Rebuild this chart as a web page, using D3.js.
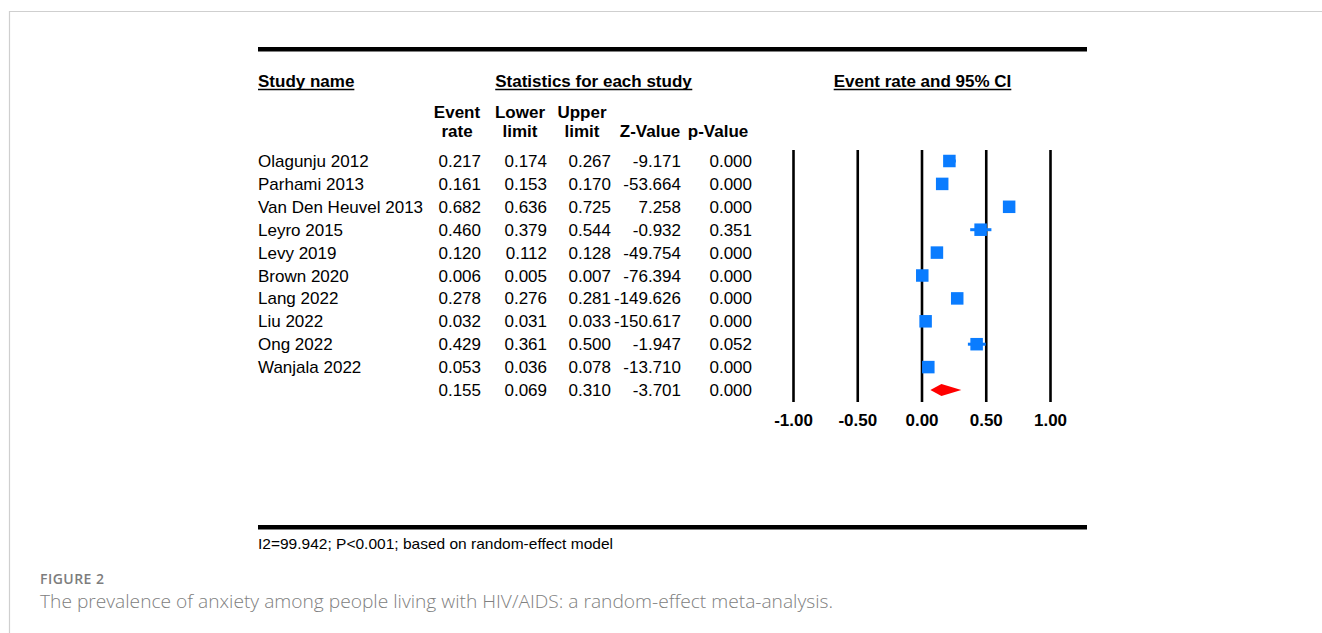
<!DOCTYPE html>
<html>
<head>
<meta charset="utf-8">
<script src="https://cdn.jsdelivr.net/npm/d3@7"></script>
<style>
  body { margin: 0; background: #fff; }
  svg { display: block; }
</style>
</head>
<body>
<div id="chart"></div>
<script>
// data
const studies = ['Olagunju 2012', 'Parhami 2013', 'Van Den Heuvel 2013', 'Leyro 2015', 'Levy 2019',
  'Brown 2020', 'Lang 2022', 'Liu 2022', 'Ong 2022', 'Wanjala 2022']
const eventRate = [0.217, 0.161, 0.682, 0.460, 0.120, 0.006, 0.278, 0.032, 0.429, 0.053]
const lowerLimit = [0.174, 0.153, 0.636, 0.379, 0.112, 0.005, 0.276, 0.031, 0.361, 0.036]
const upperLimit = [0.267, 0.170, 0.725, 0.544, 0.128, 0.007, 0.281, 0.033, 0.500, 0.078]
const zValue = [-9.171, -53.664, 7.258, -0.932, -49.754, -76.394, -149.626, -150.617, -1.947, -13.710]
const pValue = [0.000, 0.000, 0.000, 0.351, 0.000, 0.000, 0.000, 0.000, 0.052, 0.000]
const pooled = { rate: 0.155, lower: 0.069, upper: 0.310, z: -3.701, p: 0.000 }
const tickValues = [-1, -0.5, 0, 0.5, 1]
const colHeaders = [['Event', 'rate'], ['Lower', 'limit'], ['Upper', 'limit'], ['', 'Z-Value'], ['', 'p-Value']]

// consts
const width = 1322, height = 633
const font = "'Liberation Sans', Arial, sans-serif"
const blue = '#0a7cff'
const left = 258, right = 1087
const colRight = [481, 547, 611, 681, 752]
const colCenter = [457, 520, 582, 650, 718]

const svg = d3.select('#chart').append('svg')
  .attr('width', width)
  .attr('height', height)

// card border
svg.append('path')
  .attr('d', `M9.5,${height} V11.5 H${width}`)
  .attr('fill', 'none')
  .attr('stroke', '#cfcfcf')
  .attr('stroke-width', 1.2)

// rules
svg.append('rect').attr('x', left).attr('y', 47).attr('width', right - left).attr('height', 4.5).attr('fill', '#000')
svg.append('rect').attr('x', left).attr('y', 525).attr('width', right - left).attr('height', 4.5).attr('fill', '#000')

// helpers
const hyphen = f => v => f(v).replace('\u2212', '-')
const fmt = hyphen(d3.format('.3f'))
const txt = (x, y, s, opts = {}) => svg.append('text')
  .attr('x', x).attr('y', y)
  .attr('font-family', font)
  .attr('font-size', opts.size || 17)
  .attr('font-weight', opts.bold ? 'bold' : 'normal')
  .attr('text-anchor', opts.anchor || 'start')
  .attr('fill', opts.fill || '#000')
  .text(s)

const underline = (node, y) => {
  const b = node.node().getBBox()
  svg.append('line')
    .attr('x1', b.x).attr('x2', b.x + b.width)
    .attr('y1', y).attr('y2', y)
    .attr('stroke', '#000').attr('stroke-width', 1.5)
}

// headers
underline(txt(left, 87, 'Study name', { bold: true }), 89.5)
underline(txt(593.5, 87, 'Statistics for each study', { bold: true, anchor: 'middle' }), 89.5)
underline(txt(922.5, 87, 'Event rate and 95% CI', { bold: true, anchor: 'middle' }), 89.5)
colHeaders.forEach((h, i) => {
  if (h[0]) txt(colCenter[i], 118, h[0], { bold: true, anchor: 'middle' })
  txt(colCenter[i], 137, h[1], { bold: true, anchor: 'middle' })
})

// scales
const rows = d3.range(studies.length + 1)
const y = d3.scalePoint().domain(rows).range([161, 390])
const x = d3.scaleLinear().domain([-1, 1]).range([793, 1050])

// table
studies.forEach((s, i) => {
  const yy = y(i) + 6
  txt(left, yy, s)
  ;[eventRate[i], lowerLimit[i], upperLimit[i], zValue[i], pValue[i]].forEach((v, j) => {
    txt(colRight[j], yy, fmt(v), { anchor: 'end' })
  })
})
;[pooled.rate, pooled.lower, pooled.upper, pooled.z, pooled.p].forEach((v, j) => {
  txt(colRight[j], y(studies.length) + 6, fmt(v), { anchor: 'end' })
})

// axis with full-height grid lines
const axisTop = 150, axisBottom = 402
const axisG = svg.append('g')
  .attr('transform', `translate(0,${axisBottom})`)
  .call(d3.axisBottom(x)
    .tickValues(tickValues)
    .tickFormat(hyphen(d3.format('.2f')))
    .tickSizeInner(-(axisBottom - axisTop))
    .tickSizeOuter(0)
    .tickPadding(9))
axisG.select('.domain').remove()
axisG.selectAll('.tick line').attr('stroke', '#000').attr('stroke-width', 2.6)
axisG.selectAll('.tick text')
  .attr('font-family', font)
  .attr('font-size', 17)
  .attr('font-weight', 'bold')
  .attr('fill', '#000')
  .attr('dy', '0.9em')

// CI lines + squares
const plot = svg.append('g')
plot.selectAll('line.ci')
  .data(studies)
  .enter()
  .append('line')
  .attr('class', 'ci')
  .attr('x1', (d, i) => x(lowerLimit[i]))
  .attr('x2', (d, i) => x(upperLimit[i]))
  .attr('y1', (d, i) => y(i))
  .attr('y2', (d, i) => y(i))
  .attr('stroke', blue)
  .attr('stroke-width', 3)
const sq = 12.5
plot.selectAll('rect.pt')
  .data(studies)
  .enter()
  .append('rect')
  .attr('class', 'pt')
  .attr('x', (d, i) => x(eventRate[i]) - sq / 2)
  .attr('y', (d, i) => y(i) - sq / 2)
  .attr('width', sq)
  .attr('height', sq)
  .attr('fill', blue)

// pooled diamond
const yd = y(studies.length)
plot.append('path')
  .attr('d', `M${x(pooled.lower)},${yd} L${x(pooled.rate)},${yd - 6} L${x(pooled.upper)},${yd} L${x(pooled.rate)},${yd + 6} Z`)
  .attr('fill', '#ff0000')

// footnote
svg.append('text')
  .attr('x', left).attr('y', 549)
  .attr('font-family', "'Liberation Sans Narrow', 'Liberation Sans', Arial, sans-serif")
  .attr('font-size', 15)
  .attr('textLength', 355)
  .attr('lengthAdjust', 'spacingAndGlyphs')
  .text('I2=99.942; P<0.001; based on random-effect model')

// caption
svg.append('text')
  .attr('x', 40).attr('y', 584)
  .attr('font-family', "'Open Sans', sans-serif")
  .attr('font-size', 14)
  .attr('font-weight', 600)
  .attr('fill', '#7d7d7d')
  .attr('textLength', 64)
  .text('FIGURE 2')
svg.append('text')
  .attr('x', 40).attr('y', 608)
  .attr('font-family', "'Open Sans', sans-serif")
  .attr('font-size', 18.5)
  .attr('font-weight', 300)
  .attr('fill', '#808080')
  .attr('textLength', 793)
  .attr('lengthAdjust', 'spacingAndGlyphs')
  .text('The prevalence of anxiety among people living with HIV/AIDS: a random-effect meta-analysis.')
</script>
</body>
</html>
